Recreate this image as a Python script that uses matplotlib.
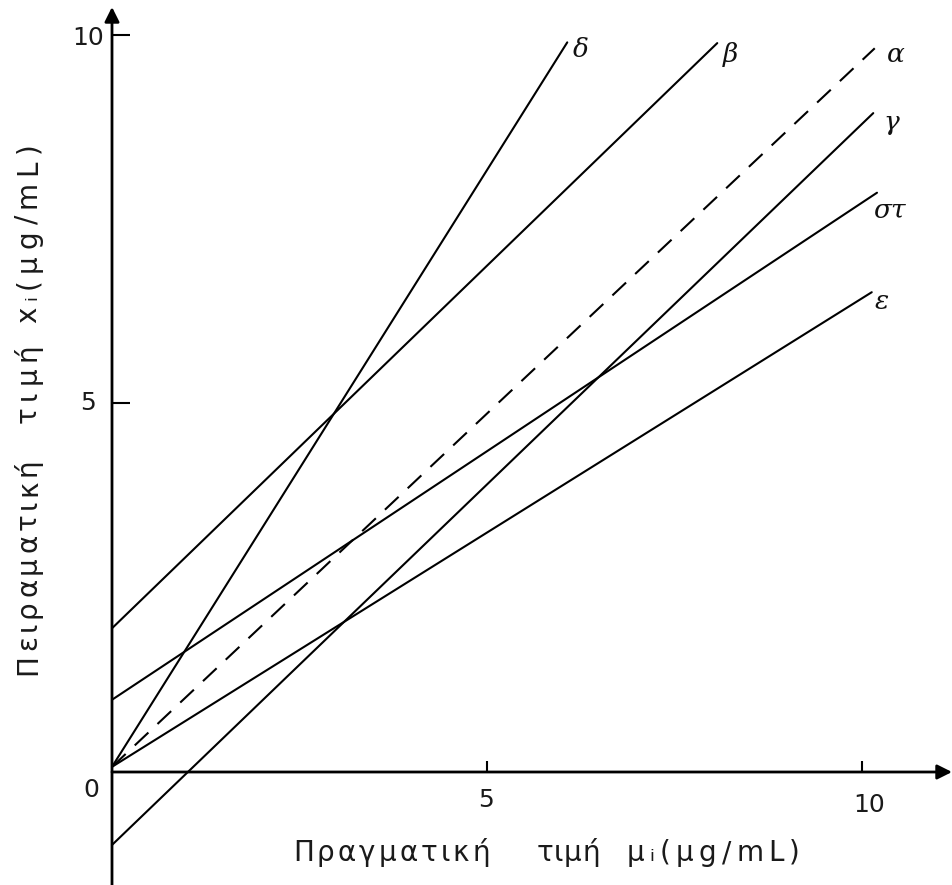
import matplotlib
matplotlib.use("Agg")
import matplotlib.pyplot as plt
from matplotlib.font_manager import FontProperties

# ---- data ----
labels  = ['α', 'β', 'γ', 'δ', 'ε', 'στ']
x_start = [0.0, 0.0, 0.0, 0.0, 0.0, 0.0]
y_start = [0.07, 1.95, -0.99, 0.07, 0.07, 0.98]
x_end   = [10.17, 8.07, 10.15, 6.07, 10.13, 10.2]
y_end   = [9.82, 9.89, 8.94, 9.9, 6.51, 7.86]
dashed  = ['α']

label_x = [10.33, 8.15, 10.28, 6.15, 10.17, 10.15]
label_y = [9.74, 9.73, 8.81, 9.81, 6.38, 7.63]

x_ticks = [5, 10]
y_ticks = [5, 10]

x_label_words = ['Πραγματική', 'τιμή', 'μᵢ(μg/mL)']
y_label_words = ['Πειραματική', 'τιμή', 'xᵢ(μg/mL)']

# ---- figure ----
W, H = 953, 885
fig = plt.figure(figsize=(W / 100, H / 100), dpi=100)
ax = fig.add_axes([0, 0, 1, 1])
ox, oy, ux, uy = 112, 772, 75.0, 73.7
ax.set_xlim((0 - ox) / ux, (W - ox) / ux)
ax.set_ylim((oy - H) / uy, oy / uy)
ax.axis('off')

# axes with arrows
ax.annotate('', xy=(11.2, 0), xytext=(0, 0),
            arrowprops=dict(arrowstyle='-|>', lw=2.0, color='black',
                            mutation_scale=22, shrinkA=0, shrinkB=0))
ax.annotate('', xy=(0, 10.38), xytext=(0, -1.6),
            arrowprops=dict(arrowstyle='-|>', lw=2.0, color='black',
                            mutation_scale=22, shrinkA=0, shrinkB=0))

# tick marks
for t in x_ticks:
    ax.plot([t, t], [0, 0.15], color='black', lw=1.5, solid_capstyle='butt')
for t in y_ticks:
    ax.plot([0, 0.24], [t, t], color='black', lw=1.5, solid_capstyle='butt')

TXT = '#1a1a1a'
tick_font = dict(fontsize=18, color=TXT, family='DejaVu Sans')
ax.text(-0.107, 9.96, str(y_ticks[1]), ha='right', va='center', **tick_font)
ax.text(-0.32, 5.0, str(y_ticks[0]), ha='center', va='center', **tick_font)
ax.text(-0.27, -0.24, '0', ha='center', va='center', **tick_font)
ax.text(4.99, -0.38, str(x_ticks[0]), ha='center', va='center', **tick_font)
ax.text(10.1, -0.45, str(x_ticks[1]), ha='center', va='center', **tick_font)

# lines
for lab, xs, ys, xe, ye in zip(labels, x_start, y_start, x_end, y_end):
    ls = (0, (9, 6)) if lab in dashed else '-'
    ax.plot([xs, xe], [ys, ye], color='black', lw=1.5, linestyle=ls,
            solid_capstyle='round')

for lab, lx, ly in zip(labels, label_x, label_y):
    ax.text(lx, ly, lab, ha='left', va='center', fontsize=19,
            family='DejaVu Serif', style='italic', color='#111111')

# ---- letter-spaced axis titles (wide tracking as in the original) ----
renderer = fig.canvas.get_renderer()
prop = FontProperties(family='DejaVu Sans', size=20)


def char_width(c):
    w, h, d = renderer.get_text_width_height_descent(c, prop, ismath=False)
    return w


def draw_word(word, start_px, end_px, base_px, vertical=False):
    widths = [char_width(c) for c in word]
    n = len(word)
    natural = sum(widths)
    target = abs(end_px - start_px)
    track = max((target - natural) / max(n - 1, 1), 0.5)
    pos = 0.0
    for c, w in zip(word, widths):
        if vertical:
            fig.text(base_px / W, 1 - (start_px - pos) / H, c, rotation=90,
                     rotation_mode='anchor', ha='left', va='baseline',
                     fontproperties=prop, color=TXT)
        else:
            fig.text((start_px + pos) / W, 1 - base_px / H, c,
                     ha='left', va='baseline', fontproperties=prop, color=TXT)
        pos += w + track


x_word_spans = [(293, 490), (537, 597), (627, 800)]
for word, (s, e) in zip(x_label_words, x_word_spans):
    draw_word(word, s, e, 861)

y_word_spans = [(675, 458), (423, 343), (323, 142)]
for word, (s, e) in zip(y_label_words, y_word_spans):
    draw_word(word, s, e, 36, vertical=True)

fig.savefig('out.png', dpi=100, facecolor='white')
